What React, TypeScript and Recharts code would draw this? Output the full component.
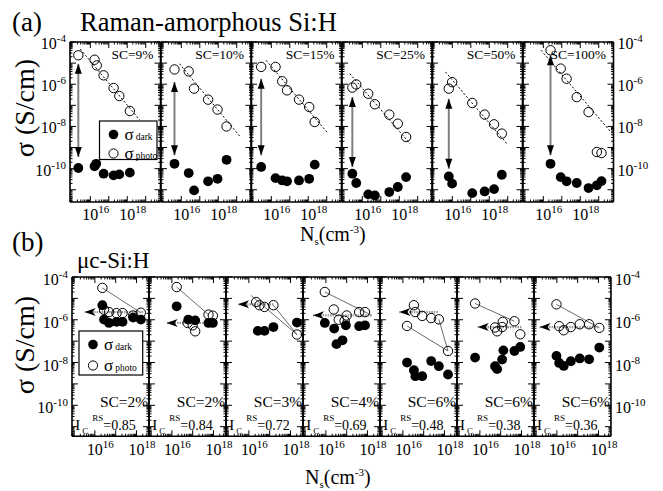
import React from "react";
import { ScatterChart, Scatter, XAxis, YAxis } from "recharts";

// every point is [log10 Ns (cm^-3), log10 sigma (S/cm)]
type Pt = [number, number];

// ---------- (a) Raman-amorphous Si:H ----------
const scA = ["SC=9%", "SC=10%", "SC=15%", "SC=25%", "SC=50%", "SC=100%"];

const photoA: Pt[][] = [
  [[15.35, -4.63], [16.23, -4.84], [16.35, -5.11], [16.72, -5.58], [17.26, -6.18], [17.57, -6.56], [18.14, -7.27]],
  [[15.63, -5.3], [16.4, -5.39], [16.69, -6.21], [17.45, -6.73], [17.96, -7.2], [18.45, -8.0]],
  [[15.45, -5.18], [16.23, -5.18], [16.59, -5.86], [16.85, -6.29], [17.5, -6.73], [18.05, -7.08], [18.35, -7.79]],
  [[15.46, -6.16], [15.67, -6.01], [16.32, -6.45], [16.68, -6.95], [17.46, -7.44], [17.92, -7.87], [18.37, -8.5]],
  [[15.81, -6.21], [15.99, -5.9], [17.08, -6.89], [17.75, -7.44], [18.26, -7.9], [18.68, -8.34]],
  [[16.39, -4.39], [16.94, -5.26], [17.26, -5.74], [17.81, -6.61], [18.45, -7.32], [18.9, -9.21], [19.15, -9.26]],
];

const darkA: Pt[][] = [
  [[15.35, -9.97], [16.23, -9.89], [16.32, -9.77], [16.72, -10.24], [17.26, -10.32], [17.57, -10.27], [18.14, -10.19]],
  [[15.63, -9.77], [16.4, -10.21], [16.69, -11.03], [17.45, -10.6], [17.96, -10.48], [18.45, -9.58]],
  [[15.45, -9.92], [16.23, -10.45], [16.59, -10.56], [16.85, -10.6], [17.5, -10.56], [18.05, -10.48], [18.35, -9.81]],
  [[15.46, -10.24], [15.67, -10.68], [16.32, -11.22], [16.68, -11.27], [17.46, -11.11], [17.92, -10.87], [18.37, -10.4]],
  [[15.81, -10.37], [15.99, -10.71], [17.08, -11.16], [17.75, -11.08], [18.26, -10.97], [18.68, -10.29]],
  [[16.39, -9.77], [16.94, -10.4], [17.26, -10.6], [17.81, -10.68], [18.45, -10.92], [18.9, -10.79], [19.15, -10.59]],
];

// dashed power-law guide through the photo points
const fitA: Pt[][] = [
  [[15.45, -4.33], [18.68, -7.7]],
  [[15.9, -5.03], [19.17, -8.47]],
  [[15.72, -4.87], [19.05, -8.31]],
  [[15.32, -5.5], [18.59, -8.82]],
  [[15.63, -5.42], [18.99, -8.85]],
  [[15.88, -4.39], [19.66, -8.27]],
];

// vertical double arrow: [top, bottom]
const arrowA: Pt[][] = [
  [[15.35, -5.03], [15.35, -9.45]],
  [[15.63, -5.9], [15.63, -9.37]],
  [[15.45, -5.74], [15.45, -9.37]],
  [[15.46, -6.61], [15.46, -9.92]],
  [[15.81, -6.69], [15.81, -10.0]],
  [[16.39, -4.63], [16.39, -9.37]],
];

// ---------- (b) uc-Si:H ----------
const scB = ["SC=2%", "SC=2%", "SC=3%", "SC=4%", "SC=6%", "SC=6%", "SC=6%"];
const icB = ["0.85", "0.84", "0.72", "0.69", "0.48", "0.38", "0.36"];

const photoB: Pt[][] = [
  [[16.36, -4.51], [16.44, -5.53], [16.68, -5.64], [17.04, -5.69], [17.33, -5.69], [17.84, -5.8], [18.21, -5.67]],
  [[16.23, -4.47], [16.76, -6.15], [17.0, -6.26], [17.12, -6.54], [17.76, -5.76], [17.97, -5.81]],
  [[16.35, -5.17], [16.51, -5.32], [16.75, -5.4], [17.18, -5.32], [18.31, -6.69]],
  [[15.95, -4.7], [16.38, -5.52], [16.62, -6.0], [16.9, -6.05], [17.0, -5.8], [17.6, -5.64], [17.88, -5.64]],
  [[16.53, -5.32], [16.59, -5.64], [16.93, -5.82], [17.36, -5.92], [17.73, -5.98], [16.2, -6.29], [18.17, -7.46]],
  [[15.77, -5.24], [16.73, -6.36], [16.83, -6.54], [17.1, -6.1], [17.07, -6.34], [17.66, -6.07], [17.94, -6.68]],
  [[15.98, -5.28], [16.11, -6.3], [16.33, -6.49], [16.67, -6.34], [17.1, -6.21], [17.55, -6.21], [18.04, -6.38]],
];

const darkB: Pt[][] = [
  [[16.36, -5.32], [16.44, -5.99], [16.68, -6.15], [17.04, -6.1], [17.33, -6.1], [17.84, -5.9], [18.21, -5.99]],
  [[16.23, -5.37], [16.79, -5.99], [17.12, -6.03], [17.76, -6.15], [17.97, -6.15]],
  [[16.43, -6.52], [16.75, -6.52], [17.18, -6.34], [18.31, -6.13]],
  [[15.95, -6.15], [16.4, -6.41], [16.51, -7.14], [16.8, -6.96], [16.96, -6.26], [17.6, -6.3], [17.88, -6.26]],
  [[16.2, -8.0], [16.53, -8.36], [16.6, -8.64], [16.93, -8.64], [17.36, -7.93], [17.73, -8.17], [18.17, -8.56]],
  [[15.77, -7.77], [16.73, -8.17], [16.83, -8.31], [17.07, -7.86], [17.13, -7.43], [17.66, -7.46], [17.94, -7.27]],
  [[15.98, -7.69], [16.11, -8.02], [16.33, -8.16], [16.67, -7.94], [17.1, -7.81], [17.55, -7.85], [18.04, -7.3]],
];

// thin guide lines joining photo points
const linesB: Pt[][][] = [
  [[[16.36, -4.51], [18.21, -5.67]]],
  [[[16.23, -4.47], [17.76, -5.76]]],
  [[[16.1, -4.86], [18.31, -6.69]], [[17.18, -5.32], [18.31, -6.69]]],
  [[[15.95, -4.7], [18.2, -5.79]]],
  [[[16.2, -6.29], [18.17, -7.46]], [[17.73, -5.98], [18.17, -7.46]]],
  [[[15.77, -5.24], [17.66, -6.07]]],
  [[[15.98, -5.28], [18.04, -6.38]]],
];

// horizontal arrow: [start (right), head (left)]
const hArrowB: Pt[][] = [
  [[18.32, -5.64], [15.51, -5.64]],
  [[18.0, -6.15], [15.75, -6.15]],
  [[17.18, -5.28], [15.48, -5.28]],
  [[18.2, -5.79], [15.38, -5.79]],
  [[17.68, -5.64], [15.83, -5.64]],
  [[18.0, -6.34], [15.9, -6.34]],
  [[17.99, -6.34], [15.17, -6.34]],
];

// ---------- layout ----------
const FONT = '"Liberation Serif", "Times New Roman", Times, serif';
const ROW_A = { left: 70, top: 41.7, w: 90.5, h: 160, xDom: [14.9, 19.8], yDom: [-11.58, -4], xLab: 17.5, yLab: 7 };
const ROW_B = { left: 72.3, top: 276.7, w: 76.96, h: 159.3, xDom: [14.9, 18.6], yDom: [-11.45, -4], xLab: 19, yLab: 8 };
const ML = 60, MR = 55, MT = 10, MB = 30;
const AX = { stroke: "#000", strokeWidth: 1.6 };

function logTicks(lo: number, hi: number) {
  const out: number[] = [];
  for (let n = Math.floor(lo); n <= Math.ceil(hi); n++)
    for (let k = 1; k <= 9; k++) {
      const v = n + Math.log10(k);
      if (v >= lo && v <= hi) out.push(v);
    }
  return out;
}

function Pow({ n }: { n: number }) {
  return (
    <>
      10<tspan dy={-7} fontSize={11}>{n}</tspan>
    </>
  );
}

function AxisTick(props: any) {
  const { x, y, payload, side, label } = props;
  const v = payload.value as number;
  const n = Math.round(v);
  const major = Math.abs(v - n) < 1e-6;
  const len = major ? 6 : 2.5;
  const showLab = label && major && n % 2 === 0 && n !== 14 && n !== 20;
  const t = { fontFamily: FONT, fontSize: 16, fill: "#000" };
  if (side === "bottom")
    return (
      <g>
        <line x1={x} x2={x} y1={y} y2={y - len} stroke="#000" />
        {showLab && <text x={x - 8} y={y + label} {...t}><Pow n={n} /></text>}
      </g>
    );
  if (side === "top") return <line x1={x} x2={x} y1={y} y2={y + len} stroke="#000" />;
  if (side === "left")
    return (
      <g>
        <line x1={x} x2={x + len} y1={y} y2={y} stroke="#000" />
        {showLab && <text x={x - 4} y={y + label} textAnchor="end" {...t}><Pow n={n} /></text>}
      </g>
    );
  return (
    <g>
      <line x1={x} x2={x - len} y1={y} y2={y} stroke="#000" />
      {showLab && <text x={x + 4} y={y + label} {...t}><Pow n={n} /></text>}
    </g>
  );
}

const toData = (pts: Pt[]) => pts.map(([x, y]) => ({ x, y }));
const noShape = () => <g />;
const openDot = (p: any) => <circle cx={p.cx} cy={p.cy} r={4.7} fill="none" stroke="#000" strokeWidth={1} />;
const fillDot = (p: any) => <circle cx={p.cx} cy={p.cy} r={4.9} fill="#000" />;
const vHead = (p: any) => {
  const d = p.payload.head === "up" ? 1 : -1;
  return <path d={`M${p.cx},${p.cy} L${p.cx - 3.5},${p.cy + d * 10} L${p.cx + 3.5},${p.cy + d * 10} Z`} fill="#000" />;
};
const hHead = (p: any) =>
  p.payload.head ? (
    <path d={`M${p.cx},${p.cy} L${p.cx + 11},${p.cy - 4} L${p.cx + 8},${p.cy} L${p.cx + 11},${p.cy + 4} Z`} fill="#000" />
  ) : (
    <g />
  );

interface PanelProps {
  row: typeof ROW_A;
  i: number;
  first: boolean;
  last: boolean;
  photo: Pt[];
  dark: Pt[];
  fit?: Pt[];
  arrow?: Pt[];
  hArrow?: Pt[];
  lines?: Pt[][];
}

function Panel({ row, i, first, last, photo, dark, fit, arrow, hArrow, lines }: PanelProps) {
  const xt = logTicks(row.xDom[0], row.xDom[1]);
  const yt = logTicks(row.yDom[0], row.yDom[1]);
  const left = row.left + i * row.w;
  const common = { type: "number" as const, interval: 0 as const, allowDataOverflow: true, tickSize: 0, tickMargin: 0, tickLine: false, axisLine: AX };
  // axes are 1px thick boxes (a 0-size axis is not drawn), margins shrink by 1 to keep the frame in place
  return (
    <div style={{ position: "absolute", left: left - ML, top: row.top - MT }}>
      <ScatterChart width={row.w + ML + MR} height={row.h + MT + MB}
        margin={{ top: MT - 1, right: MR - 1, bottom: MB - 1, left: ML - 1 }}>
        <XAxis xAxisId="b" dataKey="x" orientation="bottom" height={1} domain={row.xDom} ticks={xt} {...common}
          tick={(p: any) => <AxisTick {...p} side="bottom" label={row.xLab} />} />
        <XAxis xAxisId="t" dataKey="x" orientation="top" height={1} domain={row.xDom} ticks={xt} {...common}
          tick={(p: any) => <AxisTick {...p} side="top" />} />
        <YAxis yAxisId="l" dataKey="y" orientation="left" width={1} domain={row.yDom} ticks={yt} {...common}
          tick={(p: any) => <AxisTick {...p} side="left" label={first ? row.yLab : 0} />} />
        <YAxis yAxisId="r" dataKey="y" orientation="right" width={1} domain={row.yDom} ticks={yt} {...common}
          tick={(p: any) => <AxisTick {...p} side="right" label={last ? row.yLab : 0} />} />
        {fit && (
          <Scatter xAxisId="b" yAxisId="l" data={toData(fit)} line={{ stroke: "#000", strokeWidth: 1, strokeDasharray: "2 2" }}
            shape={noShape} isAnimationActive={false} />
        )}
        {(lines || []).map((seg, k) => (
          <Scatter key={"l" + k} xAxisId="b" yAxisId="l" data={toData(seg)} line={{ stroke: "#444", strokeWidth: 0.8 }}
            shape={noShape} isAnimationActive={false} />
        ))}
        {arrow && (
          <Scatter xAxisId="b" yAxisId="l" isAnimationActive={false}
            data={[{ x: arrow[0][0], y: arrow[0][1], head: "up" }, { x: arrow[1][0], y: arrow[1][1], head: "down" }]}
            line={{ stroke: "#808080", strokeWidth: 2 }} shape={vHead} />
        )}
        {hArrow && (
          <Scatter xAxisId="b" yAxisId="l" isAnimationActive={false}
            data={[{ x: hArrow[0][0], y: hArrow[0][1], head: false }, { x: hArrow[1][0], y: hArrow[1][1], head: true }]}
            line={{ stroke: "#999", strokeWidth: 2.2, strokeDasharray: "1.5 1" }} shape={hHead} />
        )}
        <Scatter xAxisId="b" yAxisId="l" data={toData(dark)} shape={fillDot} isAnimationActive={false} />
        <Scatter xAxisId="b" yAxisId="l" data={toData(photo)} shape={openDot} isAnimationActive={false} />
      </ScatterChart>
    </div>
  );
}

function NsLabel({ x, y }: { x: number; y: number }) {
  return (
    <text x={x} y={y} fontFamily={FONT} fontSize={20}>
      N<tspan fontSize={11} dy={4}>s</tspan>
      <tspan dy={-4}>(cm</tspan>
      <tspan fontSize={11} dy={-8}>-3</tspan>
      <tspan dy={8}>)</tspan>
    </text>
  );
}

function Legend({ x, y, w, h, gap }: { x: number; y: number; w: number; h: number; gap: number }) {
  const t = { fontFamily: FONT, fill: "#000" };
  return (
    <g>
      <rect x={x} y={y} width={w} height={h} fill="#fff" stroke="#000" strokeWidth={1.2} />
      <circle cx={x + 14} cy={y + 13.5} r={4.8} fill="#000" />
      <text x={x + 25} y={y + 18.5} fontSize={17} {...t}>σ<tspan dx={2} fontSize={9.5}>dark</tspan></text>
      <circle cx={x + 14} cy={y + 13.5 + gap} r={4.6} fill="none" stroke="#000" />
      <text x={x + 25} y={y + 18.5 + gap} fontSize={17} {...t}>σ<tspan dx={2} fontSize={9.5}>photo</tspan></text>
    </g>
  );
}

export default function App() {
  const t = { fontFamily: FONT, fill: "#000" };
  return (
    <div style={{ position: "absolute", left: 0, top: 0, width: 663, height: 491, background: "#fff", overflow: "hidden" }}>
      {photoA.map((p, i) => (
        <Panel key={"a" + i} row={ROW_A} i={i} first={i === 0} last={i === photoA.length - 1}
          photo={p} dark={darkA[i]} fit={fitA[i]} arrow={arrowA[i]} />
      ))}
      {photoB.map((p, i) => (
        <Panel key={"b" + i} row={ROW_B} i={i} first={i === 0} last={i === photoB.length - 1}
          photo={p} dark={darkB[i]} lines={linesB[i]} hArrow={hArrowB[i]} />
      ))}
      <svg width={663} height={491} style={{ position: "absolute", left: 0, top: 0, pointerEvents: "none" }}>
        <text x={12} y={31} fontSize={27} {...t}>(a)</text>
        <text x={80} y={31} fontSize={26.5} {...t}>Raman-amorphous Si:H</text>
        <text x={12} y={251} fontSize={27} {...t}>(b)</text>
        <text x={77} y={268} fontSize={23} {...t}>μc-Si:H</text>
        <NsLabel x={300} y={241} />
        <NsLabel x={305} y={484} />
        <text transform="translate(34,108) rotate(-90)" textAnchor="middle" fontSize={28} {...t}>σ (S/cm)</text>
        <text transform="translate(34,345) rotate(-90)" textAnchor="middle" fontSize={28} {...t}>σ (S/cm)</text>
        {scA.map((s, i) => (
          <text key={"sa" + i} x={ROW_A.left + (i + 1) * ROW_A.w - 7} y={59} textAnchor="end" fontSize={13.5} {...t}>{s}</text>
        ))}
        {scB.map((s, i) => (
          <text key={"sb" + i} x={ROW_B.left + (i + 1) * ROW_B.w - 1} y={407} textAnchor="end" fontSize={15.5} {...t}>{s}</text>
        ))}
        {icB.map((s, i) => (
          <text key={"ib" + i} x={ROW_B.left + i * ROW_B.w + 3} y={430} fontSize={15} {...t}>
            I<tspan fontSize={9} dx={2} dy={4}>C</tspan>
            <tspan fontSize={9} dx={4} dy={-13}>RS</tspan>
            <tspan fontSize={14} dy={9}>={s}</tspan>
          </text>
        ))}
        <Legend x={99.5} y={121} w={57.5} h={38.5} gap={19} />
        <Legend x={79} y={331} w={63.7} h={44} gap={21} />
      </svg>
    </div>
  );
}
